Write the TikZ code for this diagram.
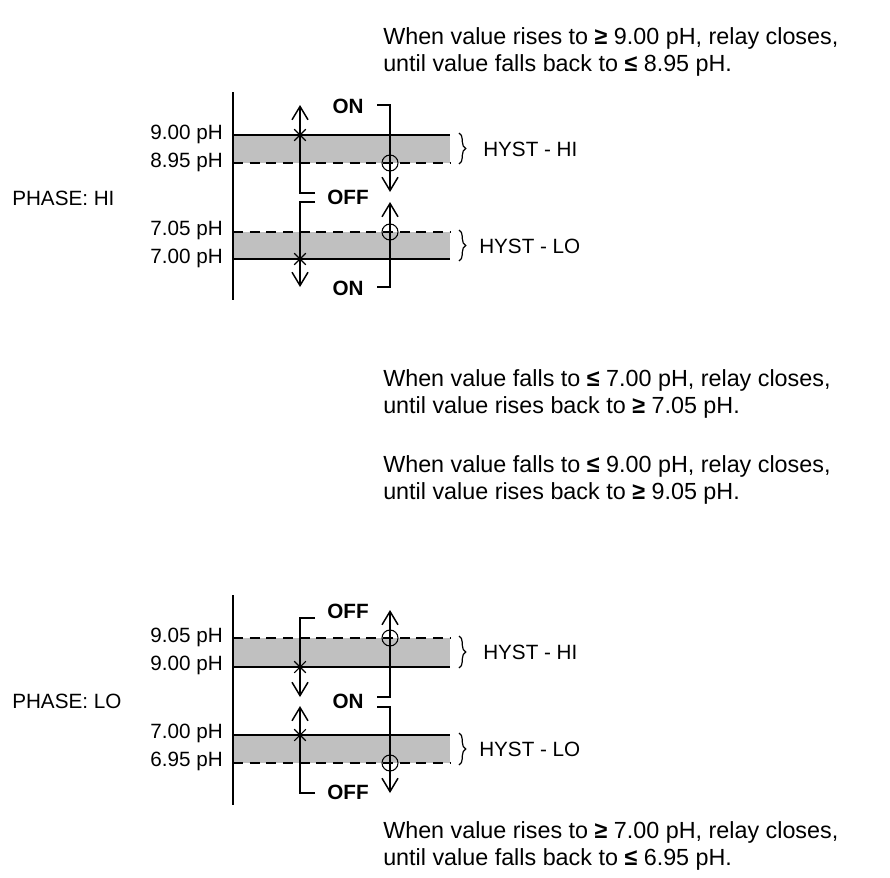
\documentclass[tikz,border=0pt]{standalone}
\usepackage{fontspec}
\setmainfont{Liberation Sans}
\usepackage{tikz}
\usetikzlibrary{arrows.meta, shapes.misc, decorations.pathreplacing}
\definecolor{band}{RGB}{192,192,192}

\begin{document}
\begin{tikzpicture}[x=0.75pt, y=-0.75pt]
    % Define styles
    \tikzset{
        note/.style={anchor=west, inner sep=0pt, align=left, font=\fontsize{17.5}{20.25}\selectfont},
        level/.style={anchor=east, inner sep=0pt, font=\fontsize{15.5}{18}\selectfont},
        phase/.style={anchor=west, inner sep=0pt, font=\fontsize{15.5}{18}\selectfont},
        state/.style={inner sep=0pt, font=\fontsize{15.5}{18}\selectfont\bfseries},
        hyst/.style={anchor=west, inner sep=0pt, font=\fontsize{15.5}{18}\selectfont},
        axis/.style={line width=1.3pt},
        edge/.style={line width=0.8pt},
        limit/.style={line width=1.8pt, dash pattern=on 7.5pt off 5pt},
        path/.style={line width=1.1pt},
        arrow/.style={path, -{Straight Barb[length=10pt, width=12pt, line width=1.1pt]}},
        xmark/.style={cross out, draw, line width=0.8pt, minimum size=8pt, inner sep=0pt},
        omark/.style={circle, draw, line width=0.8pt, minimum size=12pt, inner sep=0pt},
        hbrace/.style={decorate, decoration={brace, amplitude=5pt}, line width=0.9pt}
    }
    \useasboundingbox (0,0) rectangle (890,878);

    % ---- PHASE: HI ----
    \node [note] (hitop) at (383,51.5) {When value rises to \textbf{≥} 9.00 pH, relay closes,\\until value falls back to \textbf{≤} 8.95 pH.};
    \node [note] (hibot) at (383,393.5) {When value falls to \textbf{≤} 7.00 pH, relay closes,\\until value rises back to \textbf{≥} 7.05 pH.};
    \node [phase] (phasehi) at (12,198) {PHASE: HI};

    \fill [band] (233,135) rectangle (450,163);
    \fill [band] (233,232) rectangle (450,259);
    \draw [edge] (233,135) -- (450,135);
    \draw [limit] (233,163) -- (450,163);
    \draw [limit] (233,232) -- (450,232);
    \draw [edge] (233,259) -- (450,259);
    \draw [axis] (233,92) -- (233,300);

    \node [level] (a900) at (223,134) {9.00 pH};
    \node [level] (a895) at (223,162) {8.95 pH};
    \node [level] (a705) at (223,230) {7.05 pH};
    \node [level] (a700) at (223,258) {7.00 pH};

    \node [state] (on1) at (348,106) {ON};
    \node [state] (off1) at (348,197) {OFF};
    \node [state] (on2) at (348,288) {ON};

    \coordinate (p1) at (300,105); \coordinate (p2) at (300,193); \coordinate (p3) at (315,193);
    \coordinate (p4) at (315,202); \coordinate (p5) at (300,202); \coordinate (p6) at (300,287);
    \coordinate (q1) at (377,105); \coordinate (q2) at (390,105); \coordinate (q3) at (390,192);
    \coordinate (q4) at (377,287); \coordinate (q5) at (390,287); \coordinate (q6) at (390,202);
    \draw [arrow] (p3) -- (p2) -- (p1);
    \draw [arrow] (p4) -- (p5) -- (p6);
    \draw [arrow] (q1) -- (q2) -- (q3);
    \draw [arrow] (q4) -- (q5) -- (q6);
    \node [xmark] at (300,135) {};
    \node [xmark] at (300,259) {};
    \node [omark] at (390,163) {};
    \node [omark] at (390,232) {};

    \draw [hbrace] (459,133) -- (459,164);
    \draw [hbrace] (459,230) -- (459,261);
    \node [hyst] (hhi1) at (483,149) {HYST - HI};
    \node [hyst] (hlo1) at (479,246) {HYST - LO};

    % ---- PHASE: LO ----
    \node [note] (lotop) at (383,479.5) {When value falls to \textbf{≤} 9.00 pH, relay closes,\\until value rises back to \textbf{≥} 9.05 pH.};
    \node [note] (lobot) at (383,845.5) {When value rises to \textbf{≥} 7.00 pH, relay closes,\\until value falls back to \textbf{≤} 6.95 pH.};
    \node [phase] (phaselo) at (12,701) {PHASE: LO};

    \fill [band] (233,638) rectangle (450,667);
    \fill [band] (233,735) rectangle (450,763);
    \draw [limit] (233,638) -- (450,638);
    \draw [edge] (233,667) -- (450,667);
    \draw [edge] (233,735) -- (450,735);
    \draw [limit] (233,763) -- (450,763);
    \draw [axis] (233,595) -- (233,805);

    \node [level] (b905) at (223,637) {9.05 pH};
    \node [level] (b900) at (223,665) {9.00 pH};
    \node [level] (b700) at (223,733) {7.00 pH};
    \node [level] (b695) at (223,761) {6.95 pH};

    \node [state] (off3) at (348,611) {OFF};
    \node [state] (on3) at (348,701) {ON};
    \node [state] (off4) at (348,792) {OFF};

    \coordinate (r1) at (315,618); \coordinate (r2) at (300,618); \coordinate (r3) at (300,697);
    \coordinate (r4) at (315,793); \coordinate (r5) at (300,793); \coordinate (r6) at (300,706);
    \coordinate (s1) at (377,697); \coordinate (s2) at (390,697); \coordinate (s3) at (390,610);
    \coordinate (s4) at (377,707); \coordinate (s5) at (390,707); \coordinate (s6) at (390,793);
    \draw [arrow] (r1) -- (r2) -- (r3);
    \draw [arrow] (r4) -- (r5) -- (r6);
    \draw [arrow] (s1) -- (s2) -- (s3);
    \draw [arrow] (s4) -- (s5) -- (s6);
    \node [xmark] at (300,667) {};
    \node [xmark] at (300,735) {};
    \node [omark] at (390,638) {};
    \node [omark] at (390,763) {};

    \draw [hbrace] (459,636) -- (459,668);
    \draw [hbrace] (459,733) -- (459,765);
    \node [hyst] (hhi2) at (483,652) {HYST - HI};
    \node [hyst] (hlo2) at (479,749) {HYST - LO};
\end{tikzpicture}
\end{document}
